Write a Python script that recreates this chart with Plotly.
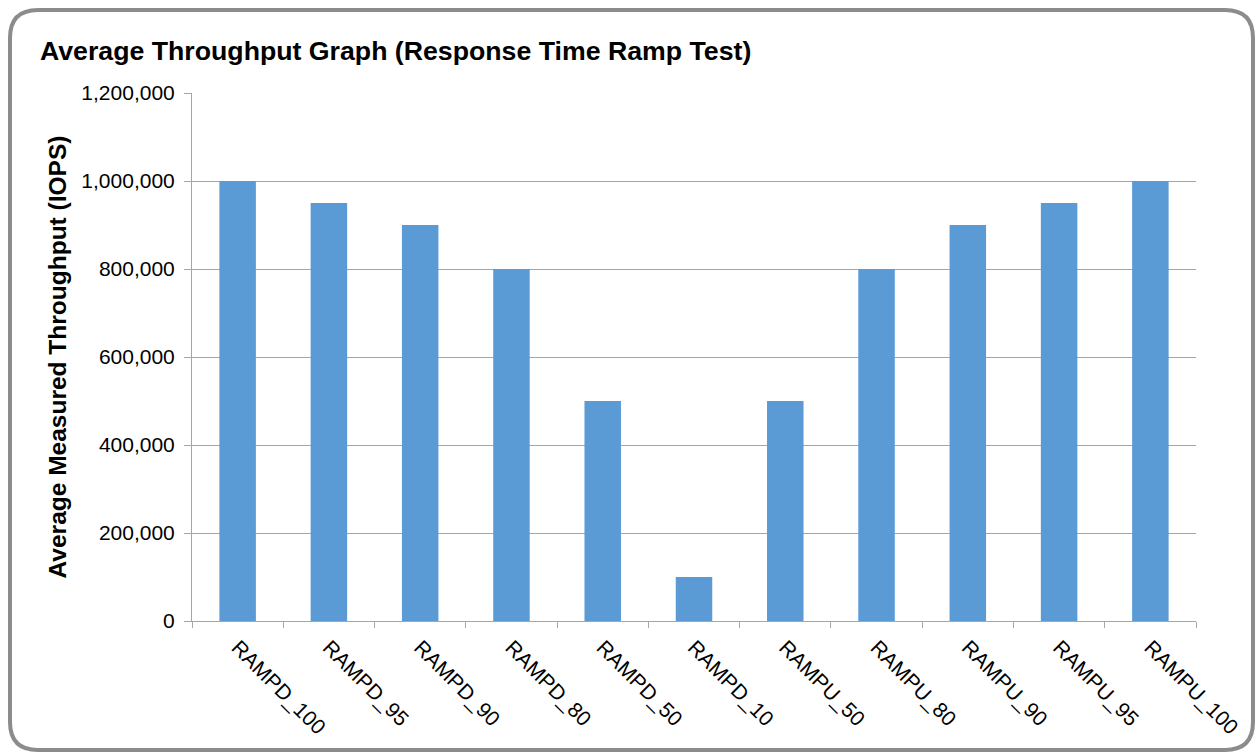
import plotly.graph_objects as go

categories = ["RAMPD_100", "RAMPD_95", "RAMPD_90", "RAMPD_80", "RAMPD_50", "RAMPD_10",
              "RAMPU_50", "RAMPU_80", "RAMPU_90", "RAMPU_95", "RAMPU_100"]
throughput = [1000000, 950000, 900000, 800000, 500000, 100000,
              500000, 800000, 900000, 950000, 1000000]
y_ticks = [0, 200000, 400000, 600000, 800000, 1000000, 1200000]

W, H = 1256, 753
L, R, T, B = 192, 60, 93, 132
pw, ph = W - L - R, H - T - B

def px(x):
    return (x - L) / pw

def py(y):
    return (H - B - y) / ph

fig = go.Figure(go.Bar(
    x=categories, y=throughput,
    marker=dict(color="#5B9BD5", line=dict(width=0)),
    width=0.4,
))

# rounded border around chart
x0, x1, y0, y1, r = 10, 1253, 10, 750, 28
path = (f"M {px(x0+r)} {py(y0)} L {px(x1-r)} {py(y0)} "
        f"Q {px(x1)} {py(y0)} {px(x1)} {py(y0+r)} "
        f"L {px(x1)} {py(y1-r)} Q {px(x1)} {py(y1)} {px(x1-r)} {py(y1)} "
        f"L {px(x0+r)} {py(y1)} Q {px(x0)} {py(y1)} {px(x0)} {py(y1-r)} "
        f"L {px(x0)} {py(y0+r)} Q {px(x0)} {py(y0)} {px(x0+r)} {py(y0)} Z")

fig.update_layout(
    width=W, height=H,
    margin=dict(l=L, r=R, t=T, b=B),
    paper_bgcolor="white", plot_bgcolor="white",
    font=dict(family="Liberation Sans, Arial, sans-serif", color="#000000", size=21),
    showlegend=False,
    title=dict(text="<b>Average Throughput Graph (Response Time Ramp Test)</b>",
               x=40 / W, xanchor="left", xref="container",
               y=1 - 51 / H, yanchor="middle", yref="container",
               font=dict(size=26.7, color="#000000")),
    bargap=0.6,
    shapes=[dict(type="path", path=path, xref="paper", yref="paper",
                 line=dict(color="#8c8c8c", width=4), layer="below")],
)

fig.update_yaxes(
    range=[0, 1200000], tickvals=y_ticks, tickformat=",d",
    showgrid=True, gridcolor="#a6a6a6", gridwidth=1,
    showline=True, linecolor="#a6a6a6", linewidth=1,
    ticks="outside", ticklen=7, tickcolor="#a6a6a6",
    ticklabelstandoff=5,
    zeroline=False,
    tickfont=dict(size=21),
    title=dict(text="<b>Average Measured Throughput (IOPS)</b>", font=dict(size=24.5), standoff=7),
)
fig.update_xaxes(
    tickangle=45, tickson="boundaries",
    showline=True, linecolor="#a6a6a6", linewidth=1,
    ticks="outside", ticklen=6, tickcolor="#a6a6a6",
    ticklabelstandoff=5,
    tickfont=dict(size=21),
    showgrid=False,
)

fig.write_html("out.html", config={"displayModeBar": False},
               post_script="document.body.style.margin='0';")
